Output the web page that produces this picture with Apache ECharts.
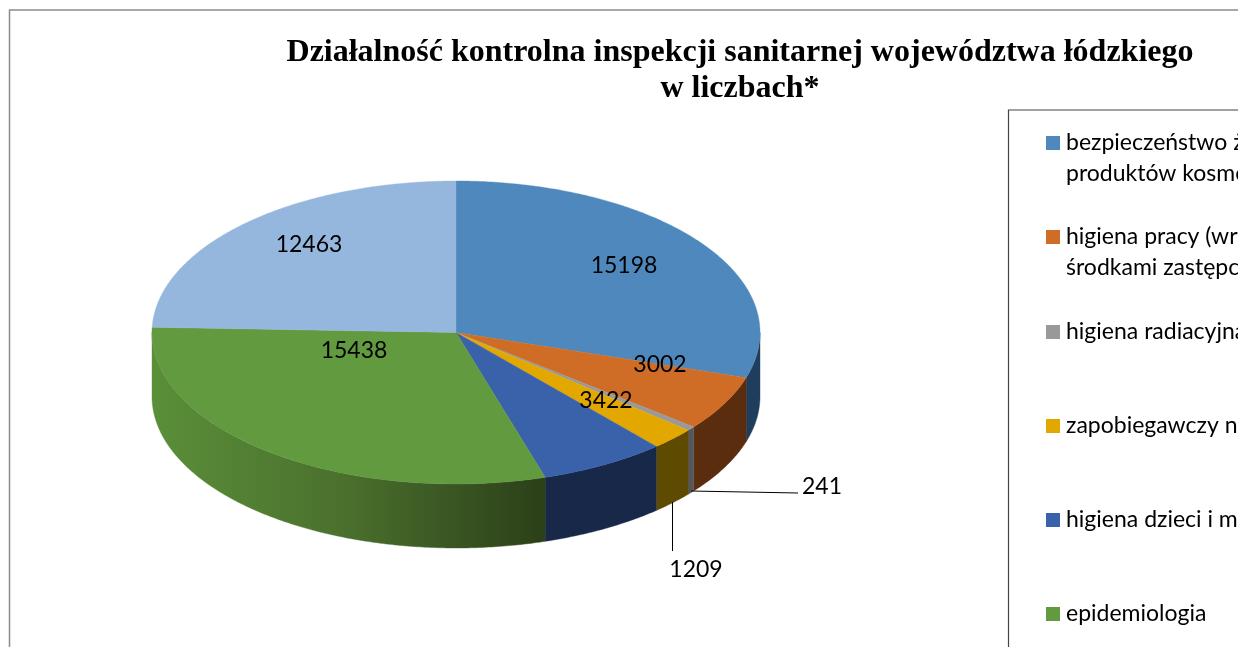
<!DOCTYPE html>
<html lang="pl">
<head>
<meta charset="utf-8">
<title>Działalność kontrolna</title>
<script src="https://cdn.jsdelivr.net/npm/echarts@6/dist/echarts.min.js"></script>
<style>html,body{margin:0;padding:0;background:#fff;overflow:hidden}#c{width:1238px;height:647px}</style>
</head>
<body>
<div id="c"></div>
<script>
const categories = [
  'bezpieczeństwo żywności, żywienia i\nproduktów kosmetycznych',
  'higiena pracy (wraz z nadzorem nad\nśrodkami zastępczymi i prekursorami)',
  'higiena radiacyjna',
  'zapobiegawczy nadzór sanitarny',
  'higiena dzieci i młodzieży',
  'epidemiologia',
  'higiena komunalna'
];
const values = [15198, 3002, 241, 1209, 3422, 15438, 12463];
const topColors = ['#4f88bc', '#cf6d27', '#999999', '#e3a800', '#3a62ab', '#619a3f', '#95b7dd'];
const sideColors = ['#1f3d5c', '#5a2d0f', '#575757', '#5e4a00', '#182848', null, '#4f6d90'];
const labelCentres = [[624, 265.5], [660, 364.5], [822, 486.5], [696, 569.5], [606, 400.5], [354, 350.5], [309, 244.5]];
const leaders = [
  [[691, 491], [798, 493]],
  [[672.5, 502], [672.5, 551]]
];
const legendRows = [142, 236, 331, 425, 519, 613, 708];

const CX = 456, CY = 332.5, RX = 304, RY = 151.5, DEPTH = 64;
const LABEL_FONT = 'Lato, Carlito, Calibri, sans-serif';
const total = values.reduce((a, b) => a + b, 0);
const cumulative = values.reduce((acc, v) => { acc.push(acc[acc.length - 1] + v); return acc; }, [0]);
const angleOf = v => v / total * Math.PI * 2;
const rim = (t, dy) => [CX + RX * Math.sin(t), CY - RY * Math.cos(t) + (dy || 0)];
const arc = (a, b, dy) => {
  const n = Math.max(2, Math.ceil((b - a) / 0.01));
  const pts = [];
  for (let k = 0; k <= n; k++) pts.push(rim(a + (b - a) * k / n, dy));
  return pts;
};
const greenSide = {
  type: 'linear', x: 152, y: 0, x2: 545, y2: 0, global: true,
  colorStops: [{ offset: 0, color: '#5a8f38' }, { offset: 0.5, color: '#4a6f2d' }, { offset: 1, color: '#2b3f18' }]
};

const series = categories.map((name, i) => ({
  type: 'custom',
  name,
  coordinateSystem: 'none',
  silent: true,
  color: topColors[i],
  itemStyle: { color: topColors[i] },
  data: [[values[i]]],
  renderItem: (params, api) => {
    const v = api.value(0);
    const a = angleOf(cumulative[i]);
    const b = angleOf(cumulative[i] + v);
    const children = [];
    const s0 = Math.max(a, Math.PI / 2), s1 = Math.min(b, Math.PI * 1.5);
    if (s1 > s0) {
      const fill = sideColors[i] || greenSide;
      children.push({
        type: 'polygon',
        shape: { points: arc(s0, s1, 0).concat(arc(s0, s1, DEPTH).reverse()) },
        style: { fill, stroke: fill, lineWidth: 0.4 }
      });
    }
    children.push({
      type: 'polygon',
      shape: { points: [[CX, CY]].concat(arc(a, b, 0)) },
      style: { fill: topColors[i], stroke: topColors[i], lineWidth: 0.4 }
    });
    children.push({
      type: 'text',
      z2: 100,
      style: {
        x: labelCentres[i][0], y: labelCentres[i][1], text: String(v),
        align: 'center', verticalAlign: 'middle', fill: '#000',
        font: '23px ' + LABEL_FONT
      }
    });
    return { type: 'group', children };
  }
}));

const legends = categories.map((name, i) => {
  const LH = 31;
  const lines = name.split('\n').length;
  return {
    data: [name],
    orient: 'vertical',
    left: 1046,
    top: legendRows[i] - (lines === 2 ? 1.5 : 0.5) * LH,
    padding: 0,
    icon: 'rect',
    itemWidth: 14,
    itemHeight: 14,
    selectedMode: false,
    formatter: n => (n.indexOf('\n') >= 0 ? ' \n' : '') + n,
    textStyle: { fontFamily: LABEL_FONT, fontSize: 23, lineHeight: LH, color: '#000', padding: [2, 0, 0, 1] }
  };
});

const chart = echarts.init(document.getElementById('c'), null, { renderer: 'canvas' });
chart.setOption({
  animation: false,
  backgroundColor: '#fff',
  title: {
    text: 'Działalność kontrolna inspekcji sanitarnej województwa łódzkiego\nw liczbach*',
    left: 740, top: 35, textAlign: 'center', padding: 0,
    textStyle: {
      fontFamily: '"Liberation Serif", "Times New Roman", serif',
      fontWeight: 'bold', fontSize: 32, lineHeight: 36, color: '#000'
    }
  },
  legend: legends,
  series,
  graphic: [
    { type: 'rect', silent: true, z: -1, shape: { x: 9.5, y: 10, width: 2000, height: 2000 },
      style: { fill: 'none', stroke: '#8c8c8c', lineWidth: 1.5 } },
    { type: 'rect', silent: true, z: -1, shape: { x: 1008.5, y: 110, width: 2000, height: 2000 },
      style: { fill: 'none', stroke: '#444', lineWidth: 1.2 } }
  ].concat(leaders.map(points => ({
    type: 'polyline', silent: true, z: 10, shape: { points },
    style: { fill: 'none', stroke: '#000', lineWidth: 1 }
  })))
});
</script>
</body>
</html>
